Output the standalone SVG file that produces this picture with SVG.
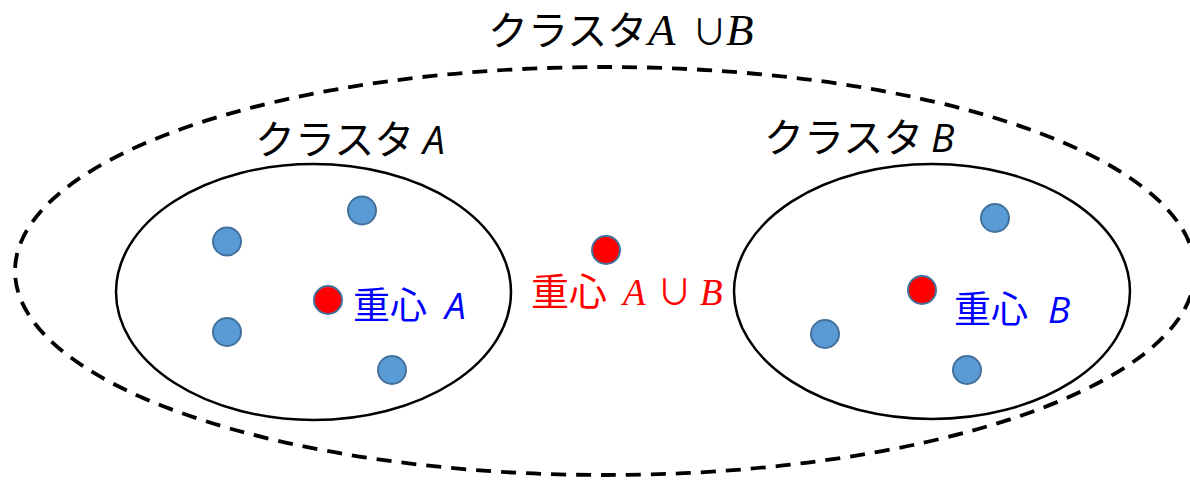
<svg xmlns="http://www.w3.org/2000/svg" width="1190" height="482" viewBox="0 0 1190 482">
<style>
.jp{font-family:"Noto Sans CJK JP","Noto Sans",sans-serif}
.mi{font-family:"Liberation Serif","DejaVu Serif",serif;font-style:italic}
.si{font-family:"Open Sans","Liberation Sans",sans-serif;font-style:italic}
.op{font-family:"Noto Sans CJK JP","DejaVu Sans",sans-serif}
.pt{fill:#5B9BD5;stroke:#41719C;stroke-width:2}
.ct{fill:#FF0000;stroke:#41719C;stroke-width:2}
.cl{fill:none;stroke:#000;stroke-width:2.5}
</style>
<rect width="1190" height="482" fill="#fff"/>
<g id="cluster-AB">
<ellipse cx="605" cy="271" rx="590" ry="204" fill="none" stroke="#000" stroke-width="3.8" stroke-dasharray="15,10"/>
<text x="488" y="45" font-size="40" class="jp">クラスタ<tspan x="648" font-size="45" class="mi">A</tspan><tspan x="692" font-size="35" class="op">∪</tspan><tspan x="726" font-size="45" class="mi">B</tspan></text>
</g>
<g id="cluster-A">
<ellipse cx="313.5" cy="292" rx="197.5" ry="128" class="cl"/>
<text x="255" y="154" font-size="40" class="jp">クラスタ<tspan x="423" font-size="39" class="si">A</tspan></text>
</g>
<g id="cluster-B">
<ellipse cx="932" cy="291.5" rx="198" ry="127.5" class="cl"/>
<text x="764" y="152" font-size="40" class="jp">クラスタ<tspan x="931" font-size="39" class="si">B</tspan></text>
</g>
<g id="points-A">
<circle cx="227" cy="241.5" r="14" class="pt"/>
<circle cx="362" cy="210.5" r="14" class="pt"/>
<circle cx="227" cy="332" r="14" class="pt"/>
<circle cx="392" cy="370" r="14" class="pt"/>
</g>
<g id="points-B">
<circle cx="995" cy="218" r="14" class="pt"/>
<circle cx="825" cy="334" r="14" class="pt"/>
<circle cx="967" cy="370" r="14" class="pt"/>
</g>
<g id="centroid-A">
<circle cx="328" cy="300" r="14" class="ct"/>
<text x="353" y="319" font-size="37" fill="#0000FF" class="jp">重心<tspan x="445" font-size="37" class="si">A</tspan></text>
</g>
<g id="centroid-B">
<circle cx="922" cy="290" r="14" class="ct"/>
<text x="954" y="323" font-size="37" fill="#0000FF" class="jp">重心<tspan x="1048" font-size="37" class="si">B</tspan></text>
</g>
<g id="centroid-AB">
<circle cx="606" cy="250" r="14" class="ct"/>
<text x="531" y="305" font-size="38" fill="#FF0000" class="jp">重心<tspan x="623" font-size="37" class="mi">A</tspan><tspan x="657" font-size="35" class="op">∪</tspan><tspan x="700" font-size="37" class="mi">B</tspan></text>
</g>
<g id="connectors"></g>
</svg>
